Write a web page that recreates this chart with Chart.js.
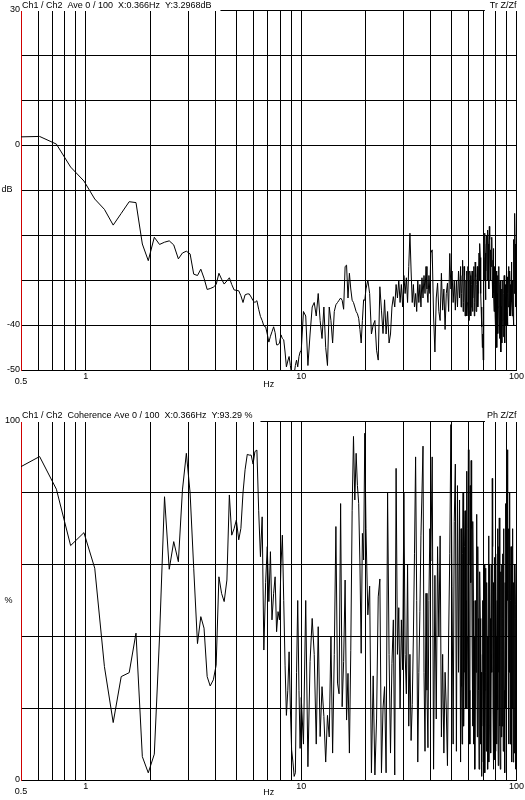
<!DOCTYPE html>
<html><head><meta charset="utf-8">
<script src="https://cdn.jsdelivr.net/npm/chart.js@4.4.1/dist/chart.umd.min.js"></script>
<style>
html,body{margin:0;padding:0;background:#fff;}
#wrap{position:relative;width:525px;height:800px;overflow:hidden;}
canvas{position:absolute;left:0;}
</style></head><body>
<div id="wrap">
<canvas id="c1" width="525" height="400" style="top:0px"></canvas>
<canvas id="c2" width="525" height="400" style="top:400px"></canvas>
</div>
<script>
// ---- frequency categories (Hz) ----
const freqLow = [0.49,0.61,0.73,0.85,0.98,1.10,1.22,1.34,1.46,1.59,1.71,1.83,1.95,2.08,2.20,2.32,2.44,2.56,2.69,2.81,2.93,3.05,3.17,3.30,3.42,3.54,3.66,3.78,3.91,4.03,4.15,4.27,4.39,4.52,4.64,4.76,4.88,5.00,5.13,5.25,5.37,5.49,5.62,5.74,5.86,5.98,6.10,6.23,6.35,6.47,6.59,6.71,6.84,6.96,7.08,7.20,7.32,7.45,7.57,7.69,7.81,7.93,8.06,8.18,8.30,8.42,8.54,8.67,8.79,8.91,9.03,9.16,9.28,9.40,9.52,9.64,9.77,9.89,10.01];
const freqMid = [10.25,10.5,10.75,11,11.25,11.5,11.75,12,12.25,12.5,12.75,13,13.25,13.5,13.75,14,14.25,14.5,14.75,15,15.25,15.5,15.75,16,16.25,16.5,16.75,17,17.25,17.5,17.75,18,18.25,18.5,18.75,19,19.25,19.5,19.75,20];
const freqUpper = [20.4,20.8,21.2,21.6,22,22.4,22.8,23.2,23.6,24,24.4,24.8,25.2,25.6,26,26.4,26.8,27.2,27.6,28,28.4,28.8,29.2,29.6,30,30.4,30.8,31.2,31.6,32,32.4,32.8,33.2,33.6,34,34.4,34.8,35.2,35.6,36,36.4,36.8,37.2,37.6,38,38.4,38.8,39.2,39.6,40];
const freqHigh = [40.6,41.2,41.8,42.4,43,43.6,44.2,44.8,45.4,46,46.6,47.2,47.8,48.4,49,49.6,50.2,50.8,51.4,52,52.6,53.2,53.8,54.4,55,55.6,56.2,56.8,57.4,58,58.6,59.2,59.8,60.4,61,61.6,62.2,62.8,63.4,64,64.6,65.2,65.8,66.4,67,67.6,68.2,68.8,69.4,70,70.6,71.2,71.8,72.4,73,73.6,74.2,74.8,75.4,76,76.6,77.2,77.8,78.4,79,79.6,80.2,80.8,81.4,82,82.6,83.2,83.8,84.4,85,85.6,86.2,86.8,87.4,88,88.6,89.2,89.8,90.4,91,91.6,92.2,92.8,93.4,94,94.6,95.2,95.8,96.4,97,97.6,98.2,98.8,99.4,100];
const freqHighB = [55.3,55.9,56.5,57.1,57.7,58.3,58.9,59.5,60.1,60.7,61.3,61.9,62.5,63.1,63.7,64.3,64.9,65.5,66.1,66.7,67.3,67.9,68.5,69.1,69.7,70.3,70.9,71.5,72.1,72.7,73.3,73.9,74.5,75.1,75.7,76.3,76.9,77.5,78.1,78.7,79.3,79.9,80.5,81.1,81.7,82.3,82.9,83.5,84.1,84.7,85.3,85.9,86.5,87.1,87.7,88.3,88.9,89.5,90.1,90.7,91.3,91.9,92.5,93.1,93.7,94.3,94.9,95.5,96.1,96.7,97.3,97.9,98.5,99.1,99.7];

// ---- transfer function Tr Z/Zf (dB) ----
const trLow = [1.8,1.9,0.2,-4.9,-8.0,-12.0,-14.3,-17.8,-15.2,-12.6,-12.8,-22.0,-25.7,-20.5,-22.1,-21.6,-21.3,-22.2,-25.3,-24.0,-23.6,-24.2,-28.7,-29.0,-27.6,-29.6,-32.1,-31.9,-31.6,-31.0,-28.5,-29.8,-30.9,-30.2,-29.5,-31.0,-32.2,-32.3,-32.4,-33.5,-35.0,-33.3,-33.1,-33.1,-33.8,-34.6,-35.0,-34.6,-36.5,-38.1,-39.0,-40.2,-40.4,-42.0,-43.8,-42.5,-41.5,-40.4,-41.7,-44.4,-44.4,-44.0,-42.2,-43.0,-43.3,-46.0,-49.3,-48.0,-47.0,-49.0,-51.0,-50.0,-51.0,-49.0,-47.8,-49.3,-47.0,-46.0,-45.6];
const trMid = [-37,-38,-49,-42,-36,-35,-38,-33,-39,-43,-36,-45,-49,-36,-39,-44,-37,-35.5,-35,-34.5,-34,-34.5,-36.5,-27,-26.7,-34,-28.5,-32,-34.5,-35,-36,-37,-37.5,-38.5,-41,-44,-39,-34.4,-34.5,-32];
const trUpper = [-30,-33,-42,-40,-39,-45.6,-47.8,-31.5,-36.7,-41.9,-34.4,-42,-37,-44,-42,-36,-33.7,-36,-31,-34,-30,-35,-31,-36,-29,-33,-29.5,-35,-27,-19.6,-28,-35,-31,-36,-33,-37,-30,-35,-31,-36,-29.5,-34,-29,-33,-27,-32,-35,-29,-33,-24];
const trHigh = [-23.3,-38,-46,-34,-30.7,-37,-39,-28.5,-36.7,-32,-41,-33,-30.7,-37,-24.1,-32,-28,-35,-30,-36.7,-30,-36,-28,-34,-27,-33,-25.6,-35,-29,-36,-28,-35,-30,-37,-29,-36,-28,-34,-27,-35,-29.3,-34.4,-27,-33,-24,-21.9,-33,-40.4,-45,-47.8,-25,-19.6,-34.4,-22,-30,-18.9,-28,-18.1,-26,-23.3,-21.9,-30,-25.6,-33,-27,-38,-30,-40,-33,-41.9,-30,-38,-31,-40,-35.9,-44,-34,-42.6,-33,-40,-33.7,-40,-32,-37,-29.3,-36,-30,-38,-31,-36,-29.3,-35,-30,-37,-25,-33,-15.2,-30,-36,-38.9];
const trHighB = [-36,-29,-37,-27,-38,-30,-38,-27,-39,-28,-38,-31,-37,-30,-38,-26,-37,-31,-36,-28,-30,-25,-36,-38,-42,-33,-30,-24,-28,-20,-26,-22,-32,-21,-30,-27,-20.5,-34,-23,-37,-31,-42,-28,-45,-29,-36,-27,-43,-30,-46,-32,-39,-30,-38,-29,-44,-31,-36,-28,-40,-33,-27,-34,-28,-38,-32,-26,-38,-32,-40,-21,-28,-22,-27,-30];

// ---- coherence (%) ----
const cohLow = [87,90.1,81,65.3,68.9,59,31.6,16,28.8,29.9,40.9,6.5,2,7.2,40,78.9,58.7,66.4,60.8,80.8,91,80,59,38,45.5,42.3,28.8,26.2,27.9,32,56.6,52,49.7,55.7,79.4,68.2,70,72.4,66.9,70.1,80,86.4,90.7,90.5,90.5,88,91.5,91.9,75,62.2,73.3,36.2,55,65,49.7,63.6,44.6,52,56.6,41.3,46.9,44.6,60,68.2,50,32,18,25,35.7,20,8.4,5,1,2,30,50,25,8.8,23];
const cohMid = [10,50,3.7,33,45,35,10,42.7,12.1,26,17.7,5,18,12,40,7.5,35,70.6,27,24,77,20.4,33,55.7,16.7,29.7,7.5,36,75,95.7,78,91,82,77,60,35.3,68.7,61.3,96.6,70];
const cohUpper = [46,54,2,29,1.4,17,51,56,2,20,26,2,80,35,7.5,32.5,44.6,1.4,86.8,35,48,20,44.6,30.7,80,35,24,60,15,35,11,21,40,63,90,50,5,30,47,68,80,93,30,8,52,25,9,50,70,61];
const cohHigh = [90,3,57,17,65,40,68,12,35,7.5,30,20,4,40,63,99,54,10,72,88,8,82,30,78,5,26,63,15,65,20,86,40,92,25,82,89,40,72,10,3,50,74,12,45,3,58,10,1,35,5,30,2,59,8,40,3,68,15,45,7.5,60,84,20,55,5.6,45,63,10,50,19.5,65,73,15,45,12,60,63,8,40,7.5,55,77,20,85,92,30,70,68,10,50,17,60,52,5,40,7.5,60,20,49,30];
const cohHighB = [70,10,80,30,75,50,20,70,60,10,55,70,15,50,40,20,30,40,65,25,20,45,30,15,50,45,60,25,30,55,20,40,5,60,20,35,30,65,3,30,62,8,40,25,70,4,30,50,3,58,30,15,45,70,25,2,20,60,40,50,75,10,30,80,28,65,5,20,70,18,55,20,45,3,60];

// ---- ticks ----
const xTickValues = [0.5,0.6,0.7,0.8,0.9,1,2,3,4,5,6,7,8,9,10,20,30,40,50,60,70,80,90,100];
const xTickLabels = {'0.5':['','0.5'],'1':'1','10':'10','100':'100'};
const trTickValues = [-50,-40,-30,-20,-10,0,10,20,30];
const trTickLabels = {'30':'30','0':'0','-10':'dB   ','-40':'-40','-50':'-50'};
const cohTickValues = [0,20,40,50,60,80,100];
const cohTickLabels = {'100':'100','50':'%   ','0':'0'};
const cohNoGrid = [50];

const header1Left = 'Ch1 / Ch2  Ave 0 / 100  X:0.366Hz  Y:3.2968dB';
const header1Right = 'Tr Z/Zf';
const header2Left = 'Ch1 / Ch2  Coherence Ave 0 / 100  X:0.366Hz  Y:93.29 %';
const header2Right = 'Ph Z/Zf';

const FONT = '"Liberation Sans", Arial, sans-serif';
Chart.defaults.font.family = FONT;
Chart.defaults.font.size = 9;
Chart.defaults.color = '#000';

function buildPoints(freqs, vals) {
  const pts = [];
  freqs.forEach((fs, s) => fs.forEach((f, i) => pts.push({ x: f, y: vals[s][i] })));
  return pts.sort((a, b) => a.x - b.x);
}
const trPoints = buildPoints([freqLow, freqMid, freqUpper, freqHigh, freqHighB], [trLow, trMid, trUpper, trHigh, trHighB]);
const cohPoints = buildPoints([freqLow, freqMid, freqUpper, freqHigh, freqHighB], [cohLow, cohMid, cohUpper, cohHigh, cohHighB]);

const headerPlugin = {
  id: 'header',
  afterDraw(chart, args, opts) {
    const ctx = chart.ctx, a = chart.chartArea;
    ctx.save();
    ctx.font = '9px ' + FONT;
    ctx.textBaseline = 'middle';
    const wl = ctx.measureText(opts.left).width;
    const wr = ctx.measureText(opts.right).width;
    ctx.fillStyle = '#fff';
    ctx.fillRect(a.left, 0, wl + opts.gapL, a.top + 1);
    ctx.fillRect(a.right - wr - opts.gapR, 0, wr + opts.gapR + 8, a.top + 1);
    ctx.fillStyle = '#000';
    ctx.textAlign = 'left';
    ctx.fillText(opts.left, a.left + 1, opts.y);
    ctx.textAlign = 'right';
    ctx.fillText(opts.right, a.right, opts.y);
    ctx.restore();
  }
};

function makeChart(id, points, yMin, yMax, yTicks, yLabels, noGrid, padTop, xHeight, titlePad, header) {
  return new Chart(document.getElementById(id), {
    type: 'line',
    data: { datasets: [{
      data: points,
      borderColor: '#000', borderWidth: 1, pointRadius: 0, fill: false, tension: 0
    }] },
    options: {
      responsive: false, animation: false, events: [],
      layout: { padding: { top: padTop, right: 8, left: 0, bottom: 0 } },
      plugins: { legend: { display: false }, tooltip: { enabled: false }, header: header },
      scales: {
        x: {
          type: 'logarithmic', min: 0.5, max: 100,
          afterBuildTicks: s => { s.ticks = xTickValues.map(v => ({ value: v })); },
          afterFit: s => { s.height = xHeight; },
          ticks: { autoSkip: false, maxRotation: 0, minRotation: 0, padding: 1, color: '#000',
                   font: c => (c.tick && c.tick.value === 0.5) ? { size: 9, lineHeight: '7px' } : { size: 9 },
                   callback: v => (xTickLabels[String(v)] || '') },
          grid: { color: c => (c.tick && c.tick.value === 0.5) ? 'rgba(0,0,0,0)' : '#000', lineWidth: 1, drawTicks: false },
          border: { display: true, color: '#000', width: 1 },
          title: { display: true, text: 'Hz', color: '#000', padding: { top: 0, bottom: titlePad } }
        },
        y: {
          min: yMin, max: yMax,
          afterBuildTicks: s => { s.ticks = yTicks.map(v => ({ value: v })); },
          afterFit: s => { s.width = 21; },
          ticks: { autoSkip: false, padding: 1, color: '#000',
                   callback: v => (yLabels[String(v)] || '') },
          grid: { color: c => (c.tick && noGrid.includes(c.tick.value)) ? 'rgba(0,0,0,0)' : '#000', lineWidth: 1, drawTicks: false },
          border: { display: true, color: '#d00000', width: 1 }
        }
      }
    },
    plugins: [headerPlugin]
  });
}

makeChart('c1', trPoints, -50, 30, trTickValues, trTickLabels, [], 10, 30, 10,
  { left: header1Left, right: header1Right, gapL: 10, gapR: 5, y: 6 });
makeChart('c2', cohPoints, 0, 100, cohTickValues, cohTickLabels, cohNoGrid, 21, 20, 2,
  { left: header2Left, right: header2Right, gapL: 9, gapR: 2, y: 15.5 });
</script>
</body></html>
